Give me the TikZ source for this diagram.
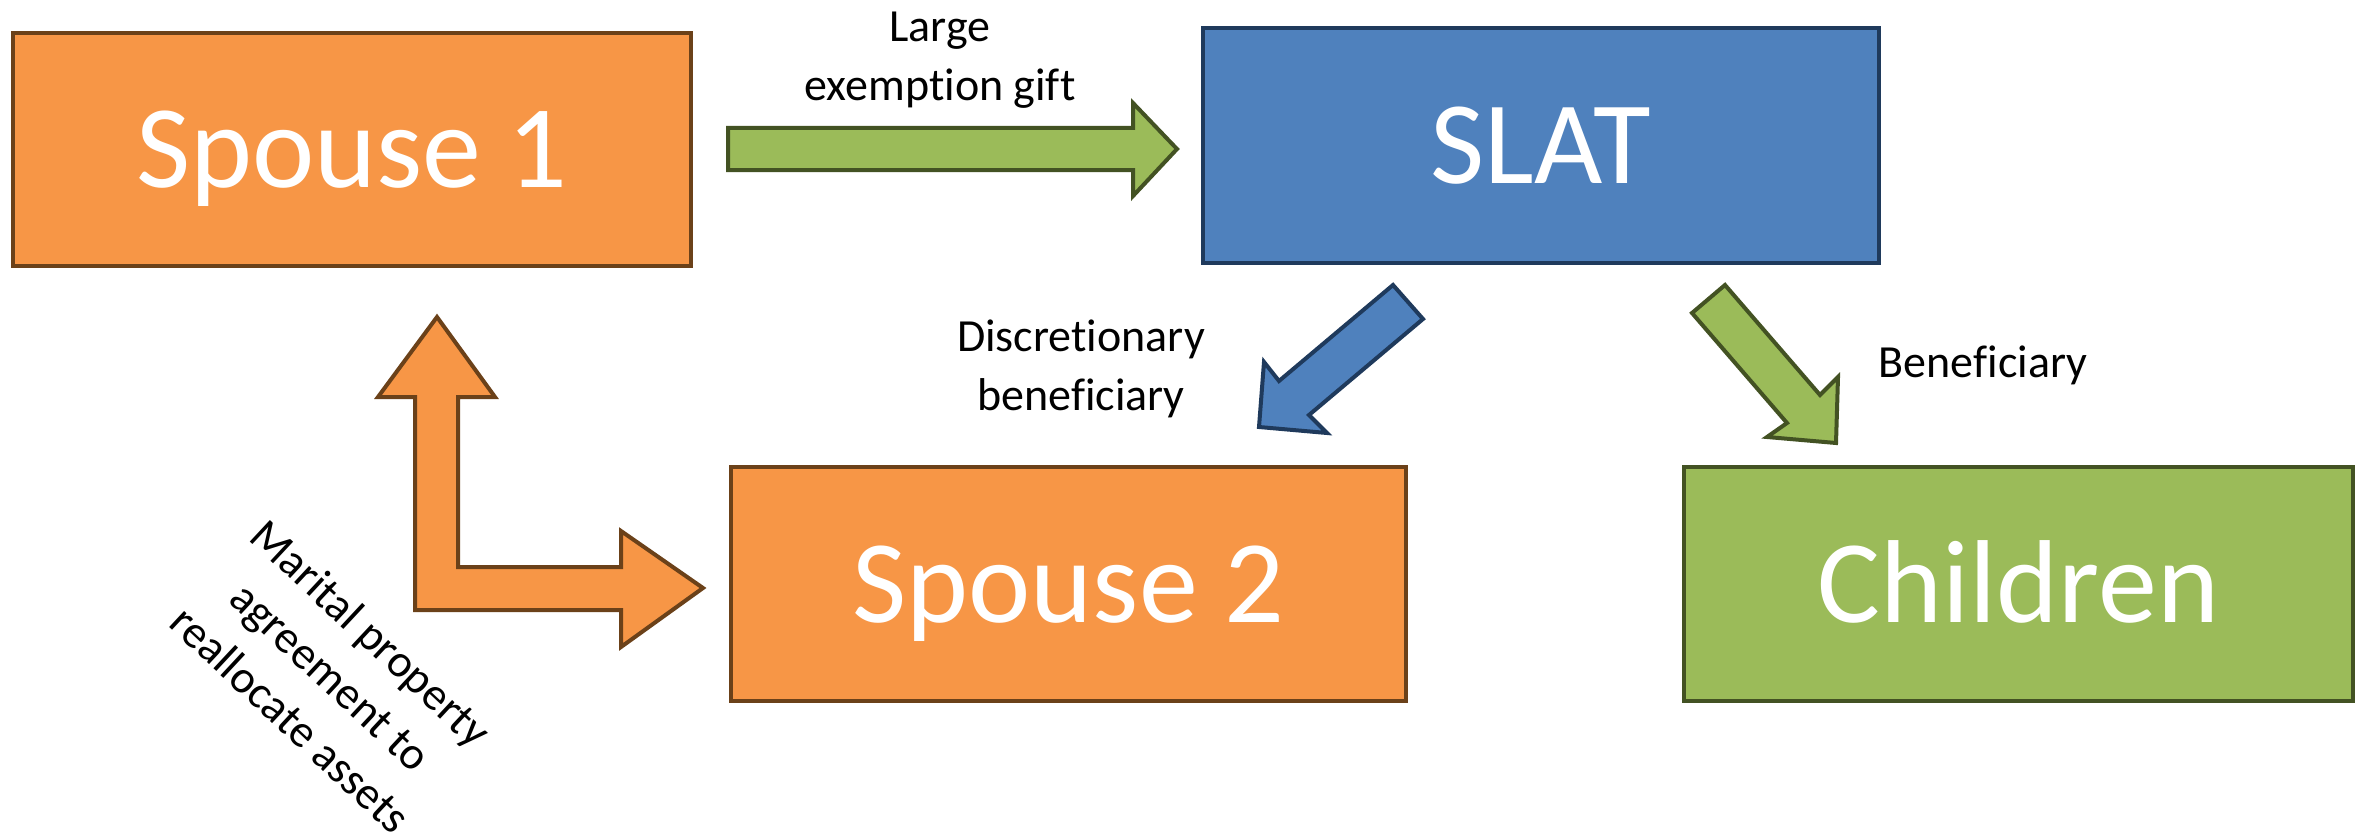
\documentclass[tikz,border=0pt]{standalone}
\usepackage{fontspec}
\setmainfont{Carlito}[Ligatures={NoCommon}]
\definecolor{orfill}{HTML}{F79646}
\definecolor{ordraw}{HTML}{6B4119}
\definecolor{blfill}{HTML}{4F81BD}
\definecolor{bldraw}{HTML}{1F3A5C}
\definecolor{grfill}{HTML}{9BBB59}
\definecolor{grdraw}{HTML}{435223}
\begin{document}
\begin{tikzpicture}[x=0.5pt,y=-0.5pt,
  box/.style={draw, line width=2pt, rectangle, inner sep=0pt, text=white,
    font=\fontsize{59}{70}\selectfont, text height=38pt, text depth=0pt},
  orbox/.style={box, fill=orfill, draw=ordraw},
  blbox/.style={box, fill=blfill, draw=bldraw},
  grbox/.style={box, fill=grfill, draw=grdraw},
  blockarrow/.style={line width=2pt, line join=miter, miter limit=10},
  orarrow/.style={blockarrow, fill=orfill, draw=ordraw},
  blarrow/.style={blockarrow, fill=blfill, draw=bldraw},
  grarrow/.style={blockarrow, fill=grfill, draw=grdraw},
  lbl/.style={font=\fontsize{23}{29.5}\selectfont, align=center, inner sep=0pt, text=black}
]
\useasboundingbox (0,0) rectangle (2356,840);
\fill[white] (0,0) rectangle (2356,840);

% boxes
\node[orbox, minimum width=339pt, minimum height=116.5pt] (sp1) at (352,149.5) {Spouse 1};
\node[blbox, minimum width=338pt, minimum height=117.5pt] (slat) at (1541,145.5) {SLAT};
\node[orbox, minimum width=337.5pt, minimum height=117pt] (sp2) at (1068.5,584) {Spouse 2};
\node[grbox, minimum width=334.5pt, minimum height=117pt] (kids) at (2018.5,584) {Children};

% block arrows
\draw[grarrow] (728,128) -- (1133,128) -- (1133,103) -- (1177,149) -- (1133,196) -- (1133,170) -- (728,170) -- cycle;
\draw[blarrow] (1393,285) -- (1423,319) -- (1309,415) -- (1327,433) -- (1259,427) -- (1264,362) -- (1279,381) -- cycle;
\draw[grarrow] (1692,313) -- (1725,285) -- (1820,395) -- (1838,377) -- (1836,443) -- (1767,437) -- (1787,423) -- cycle;
\draw[orarrow] (437,317) -- (495,397) -- (458,397) -- (458,567) -- (621,567) -- (621,531) -- (703,588)
  -- (621,647) -- (621,610) -- (415,610) -- (415,397) -- (378,397) -- cycle;

% labels
\node[lbl] (gift) at (940,60) {Large\\exemption gift};
\node[lbl] (disc) at (1081,369) {Discretionary\\beneficiary};
\node[lbl, anchor=base] (benef) at (1983,377) {Beneficiary};
\node[lbl, rotate=-43] (marital) at (331,676) {Marital property\\agreement to\\reallocate assets};
\end{tikzpicture}
\end{document}
